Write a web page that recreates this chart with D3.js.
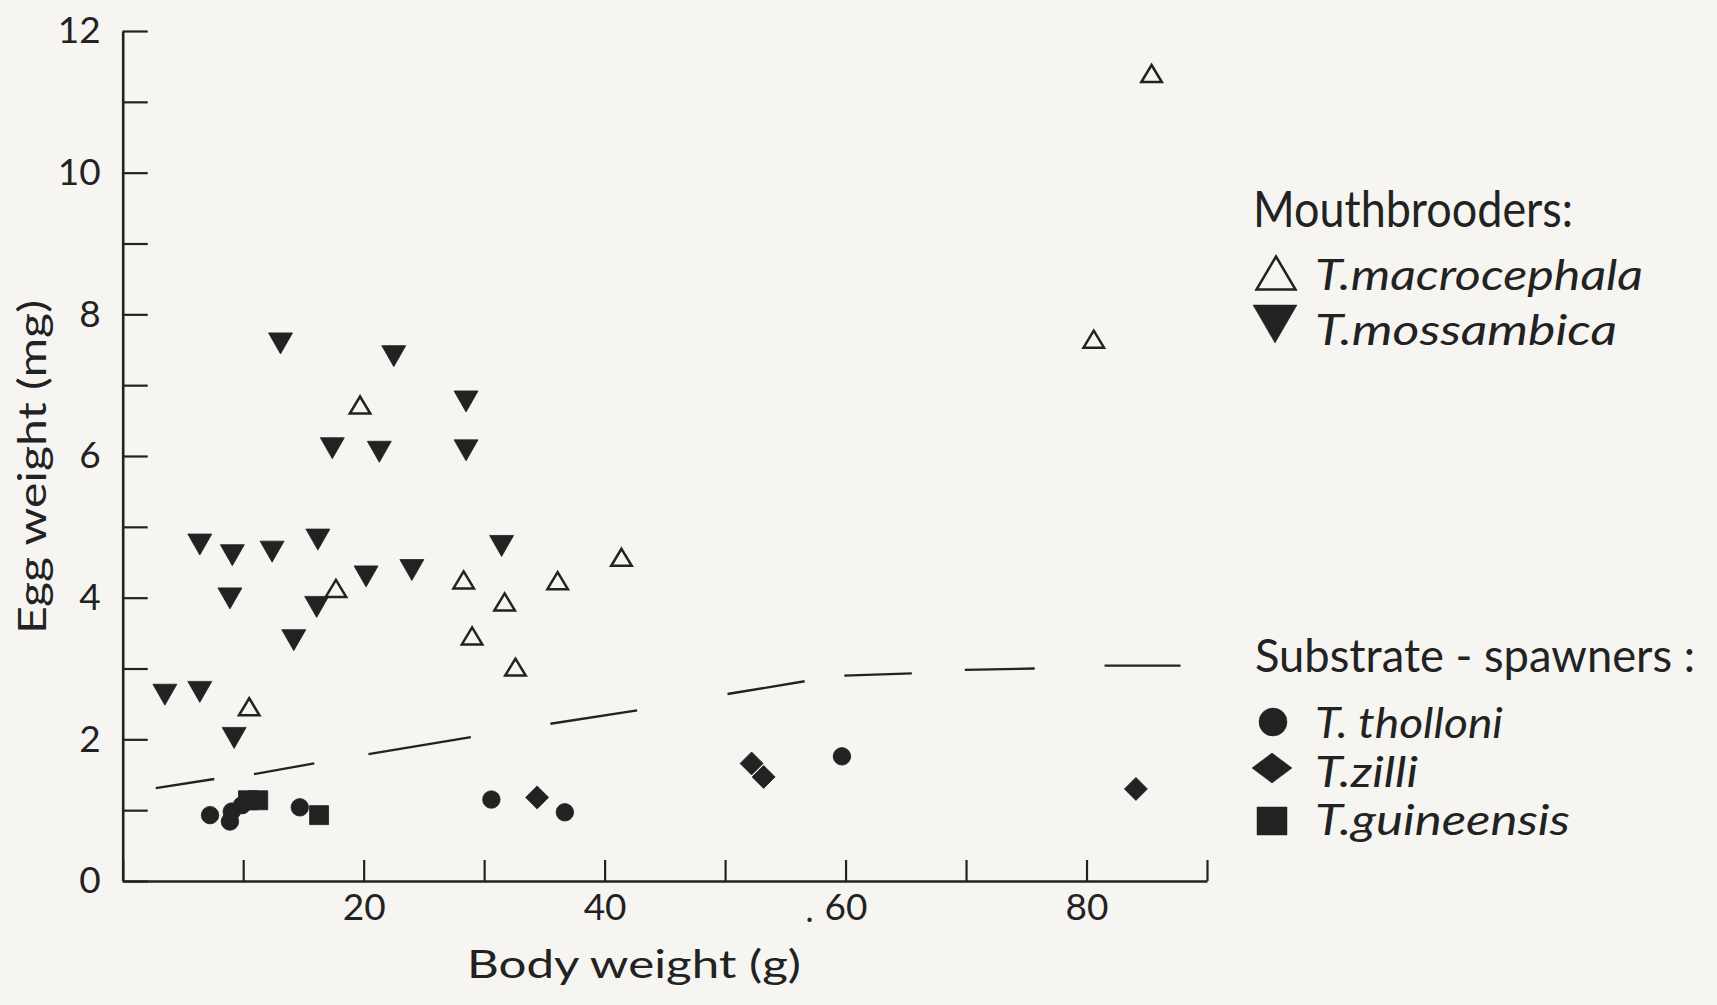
<!DOCTYPE html>
<html>
<head>
<meta charset="utf-8">
<title>Egg weight vs body weight</title>
<script src="https://d3js.org/d3.v7.min.js"></script>
<style>
  html, body { margin: 0; padding: 0; background: #f6f5f1; }
  svg { display: block; }
  text { font-family: Lato, "Liberation Sans", sans-serif; fill: #222; }
</style>
</head>
<body>
<svg width="1717" height="1005"></svg>
<script>
// body weight (g), egg weight (mg)
var macrocephala = [
  [10.5, 2.46], [17.7, 4.13], [19.7, 6.72], [28.3, 4.25], [29.0, 3.46],
  [31.7, 3.94], [32.6, 3.02], [36.1, 4.24], [41.4, 4.57], [80.6, 7.65], [85.4, 11.4]
];
var mossambica = [
  [3.5, 2.63], [6.4, 2.67], [9.25, 2.02], [8.9, 3.99], [14.2, 3.40], [16.1, 3.87],
  [6.4, 4.75], [9.1, 4.60], [12.4, 4.65], [16.2, 4.82], [20.2, 4.30], [24.0, 4.39],
  [31.45, 4.73], [17.4, 6.11], [21.3, 6.06], [28.5, 6.08], [28.5, 6.77],
  [13.1, 7.59], [22.5, 7.41]
];
var tholloni = [
  [7.25, 0.93], [8.9, 0.84], [9.05, 0.98], [9.9, 1.07], [14.7, 1.04],
  [30.6, 1.15], [36.7, 0.97], [59.7, 1.76]
];
var zilli = [[34.4, 1.18], [52.2, 1.66], [53.2, 1.47], [84.1, 1.30]];
var guineensis = [[10.4, 1.14], [11.25, 1.14], [16.3, 0.93]];

// broken trend line, pieces as [x0, y0, x1, y1]
var trendSegments = [
  [2.74, 1.31, 7.6, 1.44],
  [10.9, 1.51, 15.9, 1.66],
  [20.4, 1.79, 28.9, 2.03],
  [35.5, 2.22, 42.7, 2.41],
  [50.2, 2.64, 56.6, 2.82],
  [59.9, 2.90, 65.5, 2.93],
  [69.9, 2.98, 75.7, 3.00],
  [81.5, 3.04, 87.8, 3.04]
];

var xTicks = d3.range(0, 100, 10);
var xLabels = [20, 40, 60, 80];
var yTicks = d3.range(0, 13, 1);
var yLabels = [0, 2, 4, 6, 8, 10, 12];

var svg = d3.select('svg');
var ink = '#222';

var x = d3.scaleLinear().domain([0, 90]).range([122.7, 1207]);
var y = d3.scaleLinear().domain([0, 12]).range([881, 31]);

// marker shapes, size = width in px
function tri(up, h) {
  return { draw: function (ctx, size) {
    var w = size, s = up ? 1 : -1;
    ctx.moveTo(0, -s * h / 2);
    ctx.lineTo(w / 2, s * h / 2);
    ctx.lineTo(-w / 2, s * h / 2);
    ctx.closePath();
  } };
}
function diamond(h) {
  return { draw: function (ctx, w) {
    ctx.moveTo(0, -h / 2); ctx.lineTo(w / 2, 0);
    ctx.lineTo(0, h / 2); ctx.lineTo(-w / 2, 0); ctx.closePath();
  } };
}
function rect(h) {
  return { draw: function (ctx, w) { ctx.rect(-w / 2, -h / 2, w, h); } };
}
function circ() {
  return { draw: function (ctx, d) { ctx.moveTo(d / 2, 0); ctx.arc(0, 0, d / 2, 0, 2 * Math.PI); } };
}

// axes
var yAxis = d3.axisLeft(y).tickValues(yTicks).tickSizeInner(-25).tickSizeOuter(0).tickPadding(22)
  .tickFormat(function (d) { return yLabels.indexOf(d) >= 0 ? d : ''; });
var xAxis = d3.axisBottom(x).tickValues(xTicks).tickSizeInner(-21).tickSizeOuter(0).tickPadding(13)
  .tickFormat(function (d) { return xLabels.indexOf(d) >= 0 ? d : ''; });

var gy = svg.append('g').attr('transform', 'translate(' + x(0) + ',0)').call(yAxis);
var gx = svg.append('g').attr('transform', 'translate(0,' + y(0) + ')').call(xAxis);
[gx, gy].forEach(function (g) {
  g.select('.domain').attr('stroke', ink).attr('stroke-width', 2.6);
  g.selectAll('.tick line').attr('stroke', ink).attr('stroke-width', 2.2);
  g.selectAll('.tick text').style('font-family', 'Lato, sans-serif').attr('font-size', 37).attr('fill', ink);
});
// the period speck printed before 60
svg.append('text').attr('x', x(60) - 40).attr('y', 922).attr('font-size', 34).text('.');

svg.append('text')
  .attr('transform', 'translate(46,467) rotate(-90)')
  .attr('text-anchor', 'middle')
  .attr('font-size', 39)
  .attr('textLength', 334).attr('lengthAdjust', 'spacingAndGlyphs')
  .text('Egg weight (mg)');
svg.append('text')
  .attr('x', 634).attr('y', 978)
  .attr('text-anchor', 'middle')
  .attr('font-size', 39)
  .attr('textLength', 334).attr('lengthAdjust', 'spacingAndGlyphs')
  .text('Body weight (g)');

// trend line
svg.append('g').selectAll('line')
  .data(trendSegments).enter()
  .append('line')
  .attr('x1', function (d) { return x(d[0]); })
  .attr('y1', function (d) { return y(d[1]); })
  .attr('x2', function (d) { return x(d[2]); })
  .attr('y2', function (d) { return y(d[3]); })
  .attr('stroke', ink).attr('stroke-width', 2.3);

function plot(data, type, size, filled) {
  var sym = d3.symbol().type(type).size(size);
  svg.append('g').selectAll('path')
    .data(data).enter()
    .append('path')
    .attr('transform', function (d) { return 'translate(' + x(d[0]) + ',' + y(d[1]) + ')'; })
    .attr('d', sym)
    .attr('fill', filled ? ink : 'none')
    .attr('stroke', ink)
    .attr('stroke-width', filled ? 0.8 : 2.5)
    .attr('stroke-linejoin', 'miter');
}
plot(tholloni, circ(), 17.5, true);
plot(guineensis, rect(19), 19, true);
plot(zilli, diamond(23), 23, true);
plot(macrocephala, tri(true, 17), 20.5, false);
plot(mossambica, tri(false, 21), 24, true);

// legend
var legendHeads = [
  { text: 'Mouthbrooders:', x: 1253, y: 227, len: 320, size: 50 },
  { text: 'Substrate - spawners :', x: 1255, y: 672, len: 440, size: 46 }
];
var legendItems = [
  { text: 'T.macrocephala', y: 290, len: 328, type: tri(true, 33), w: 39, cx: 1276, cy: 273, filled: false },
  { text: 'T.mossambica', y: 345, len: 302, type: tri(false, 38), w: 44, cx: 1275, cy: 324, filled: true },
  { text: 'T. tholloni', y: 738, len: 188, type: circ(), w: 28, cx: 1273, cy: 722, filled: true },
  { text: 'T.zilli', y: 787, len: 103, type: diamond(30), w: 40, cx: 1272, cy: 768, filled: true },
  { text: 'T.guineensis', y: 835, len: 255, type: rect(28), w: 30, cx: 1272, cy: 821, filled: true }
];
var legend = svg.append('g');
legend.selectAll('text.head')
  .data(legendHeads).enter()
  .append('text').attr('class', 'head')
  .attr('x', function (d) { return d.x; })
  .attr('y', function (d) { return d.y; })
  .attr('font-size', function (d) { return d.size; })
  .attr('textLength', function (d) { return d.len; })
  .attr('lengthAdjust', 'spacingAndGlyphs')
  .text(function (d) { return d.text; });
legend.selectAll('text.item')
  .data(legendItems).enter()
  .append('text').attr('class', 'item')
  .attr('x', 1315)
  .attr('y', function (d) { return d.y; })
  .attr('font-size', 42)
  .attr('font-style', 'italic')
  .attr('textLength', function (d) { return d.len; })
  .attr('lengthAdjust', 'spacingAndGlyphs')
  .text(function (d) { return d.text; });
legend.selectAll('path')
  .data(legendItems).enter()
  .append('path')
  .attr('transform', function (d) { return 'translate(' + d.cx + ',' + d.cy + ')'; })
  .attr('d', function (d) { return d3.symbol().type(d.type).size(d.w)(); })
  .attr('fill', function (d) { return d.filled ? ink : 'none'; })
  .attr('stroke', ink)
  .attr('stroke-width', function (d) { return d.filled ? 0.5 : 2.5; });
</script>
</body>
</html>
